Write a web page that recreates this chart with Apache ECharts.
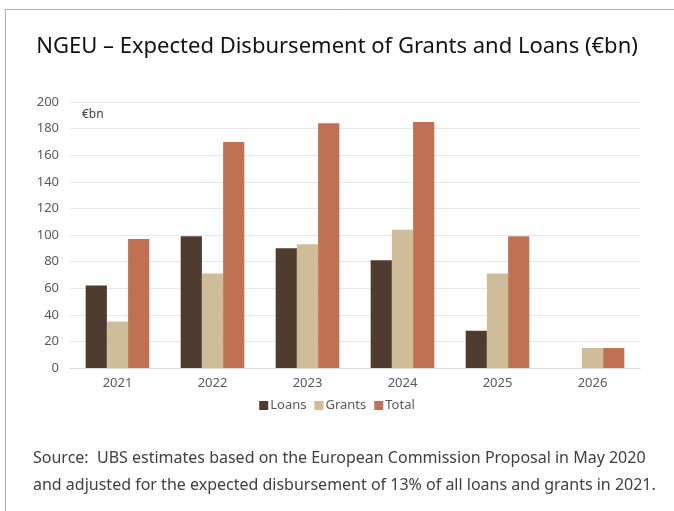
<!DOCTYPE html>
<html>
<head>
<meta charset="utf-8">
<script src="https://cdn.jsdelivr.net/npm/echarts@6/dist/echarts.min.js"></script>
<style>
  html, body { margin: 0; padding: 0; background: #fff; }
  #chart { width: 674px; height: 511px; }
</style>
</head>
<body>
<div id="chart"></div>
<script>
var years = ['2021', '2022', '2023', '2024', '2025', '2026'];
var loans = [62, 99, 90, 81, 28, null];
var grants = [35, 71, 93, 104, 71, 15];
var total = [97, 170, 184, 185, 99, 15];
var yTicks = [0, 200, 20];

var colors = ['#4f3c2f', '#cfbd99', '#c07154'];
var font = 'Noto Sans';

var myChart = echarts.init(document.getElementById('chart'));

var option = {
  color: colors,
  animation: false,
  textStyle: { fontFamily: font },
  title: {
    text: 'NGEU \u2013 Expected Disbursement of Grants and Loans (\u20acbn)',
    left: 'center',
    top: 31,
    textStyle: { color: '#111', fontSize: 22, fontWeight: 'normal', fontFamily: font }
  },
  legend: {
    bottom: 94,
    left: 'center',
    itemWidth: 9,
    itemHeight: 9,
    itemGap: 8,
    icon: 'rect',
    textStyle: { color: '#595959', fontSize: 13, padding: [0, 0, 0, -3] },
    data: ['Loans', 'Grants', 'Total']
  },
  grid: { left: 70, right: 34, top: 102, bottom: 143 },
  xAxis: {
    type: 'category',
    data: years,
    axisTick: { show: false },
    axisLine: { lineStyle: { color: '#d9d9d9' } },
    axisLabel: { color: '#595959', fontSize: 13, margin: 9 }
  },
  yAxis: {
    type: 'value',
    min: yTicks[0],
    max: yTicks[1],
    interval: yTicks[2],
    axisLine: { show: false },
    axisTick: { show: false },
    axisLabel: { color: '#595959', fontSize: 13, margin: 11 },
    splitLine: { lineStyle: { color: '#e8e8e8', width: 1 } }
  },
  graphic: [
    { type: 'line', shape: { x1: 5, y1: 9.5, x2: 674, y2: 9.5 }, style: { stroke: '#b0b0b0', lineWidth: 1 } },
    { type: 'line', shape: { x1: 5.5, y1: 9, x2: 5.5, y2: 511 }, style: { stroke: '#b0b0b0', lineWidth: 1 } },
    { type: 'text', left: 82, top: 109, style: { text: '\u20acbn', fill: '#404040', font: '12px ' + font } },
    { type: 'text', left: 33, top: 450, style: { text: 'Source:  UBS estimates based on the European Commission Proposal in May 2020', fill: '#404040', font: '16px ' + font } },
    { type: 'text', left: 33, top: 477, style: { text: 'and adjusted for the expected disbursement of 13% of all loans and grants in 2021.', fill: '#404040', font: '16px ' + font } }
  ],
  series: [
    { name: 'Loans', type: 'bar', data: loans, barGap: '0%', barCategoryGap: '33%' },
    { name: 'Grants', type: 'bar', data: grants, barGap: '0%', barCategoryGap: '33%' },
    { name: 'Total', type: 'bar', data: total, barGap: '0%', barCategoryGap: '33%' }
  ]
};

option && myChart.setOption(option);
</script>
</body>
</html>
